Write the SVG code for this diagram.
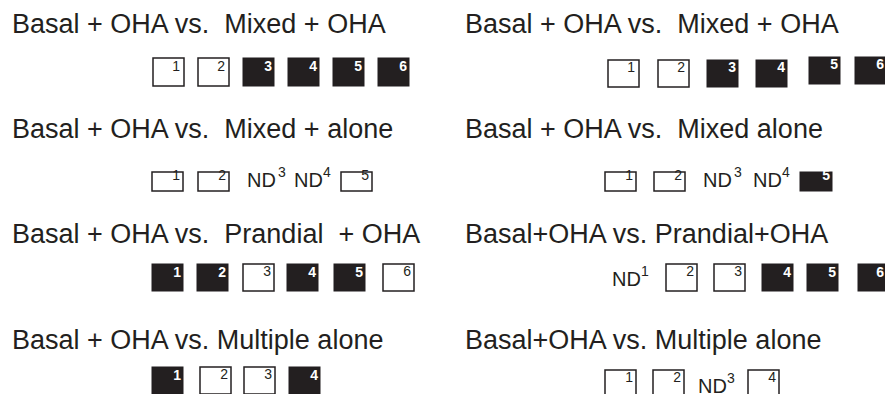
<svg xmlns="http://www.w3.org/2000/svg" width="885" height="394" viewBox="0 0 885 394">
<style>
.t{font-family:"Liberation Sans",Arial,sans-serif;font-size:27px;fill:#231f20}
.nd{font-family:"Liberation Sans",Arial,sans-serif;font-size:20px;fill:#231f20}
.sup{font-family:"Liberation Sans",Arial,sans-serif;font-size:14px;fill:#231f20}
.w rect{fill:#fff;stroke:#231f20;stroke-width:1.5}
.b rect{fill:#231f20;stroke:#231f20;stroke-width:1}
.w text{font-family:"Liberation Sans",Arial,sans-serif;font-size:14px;fill:#231f20;text-anchor:end}
.b text{font-family:"Liberation Sans",Arial,sans-serif;font-size:14px;font-weight:bold;fill:#fff;text-anchor:end}
</style>
<rect width="885" height="394" fill="#fff"/>
<g id="panel-1-left">
<text class="t" x="12" y="33" xml:space="preserve">Basal + OHA vs.  Mixed + OHA</text>
<g class="w"><rect x="153" y="58" width="31" height="28"/><text x="180" y="71">1</text></g>
<g class="w"><rect x="198" y="58" width="31" height="28"/><text x="225" y="71">2</text></g>
<g class="b"><rect x="243" y="58" width="31" height="28"/><text x="272" y="71">3</text></g>
<g class="b"><rect x="288" y="58" width="31" height="28"/><text x="317" y="71">4</text></g>
<g class="b"><rect x="333" y="58" width="31" height="28"/><text x="362" y="71">5</text></g>
<g class="b"><rect x="378" y="58" width="31" height="28"/><text x="407" y="71">6</text></g>
</g>
<g id="panel-1-right">
<text class="t" x="465" y="33" xml:space="preserve">Basal + OHA vs.  Mixed + OHA</text>
<g class="w"><rect x="608" y="60" width="31" height="27"/><text x="635" y="72">1</text></g>
<g class="w"><rect x="658" y="60" width="31" height="27"/><text x="685" y="72">2</text></g>
<g class="b"><rect x="707" y="60" width="31" height="27"/><text x="736" y="72">3</text></g>
<g class="b"><rect x="756" y="60" width="31" height="27"/><text x="785" y="72">4</text></g>
<g class="b"><rect x="809" y="57" width="31" height="27"/><text x="838" y="69">5</text></g>
<g class="b"><rect x="855" y="57" width="31" height="27"/><text x="884" y="69">6</text></g>
</g>
<g id="panel-2-left">
<text class="t" x="12" y="138" xml:space="preserve">Basal + OHA vs.  Mixed + alone</text>
<g class="w"><rect x="152" y="172" width="31" height="19"/><text x="180" y="180">1</text></g>
<g class="w"><rect x="198" y="172" width="31" height="19"/><text x="226" y="180">2</text></g>
<text class="nd" x="247" y="187">ND</text><text class="sup" x="278" y="177">3</text>
<text class="nd" x="294" y="187">ND</text><text class="sup" x="323" y="177">4</text>
<g class="w"><rect x="341" y="172" width="31" height="19"/><text x="369" y="180">5</text></g>
</g>
<g id="panel-2-right">
<text class="t" x="465" y="138" xml:space="preserve">Basal + OHA vs.  Mixed alone</text>
<g class="w"><rect x="605" y="172" width="31" height="19"/><text x="633" y="180">1</text></g>
<g class="w"><rect x="654" y="172" width="31" height="19"/><text x="682" y="180">2</text></g>
<text class="nd" x="703" y="187">ND</text><text class="sup" x="734" y="177">3</text>
<text class="nd" x="753" y="187">ND</text><text class="sup" x="782" y="177">4</text>
<g class="b"><rect x="800" y="172" width="32" height="19"/><text x="830" y="180">5</text></g>
</g>
<g id="panel-3-left">
<text class="t" x="12" y="243" xml:space="preserve">Basal + OHA vs.  Prandial  + OHA</text>
<g class="b"><rect x="152" y="264" width="31" height="27"/><text x="181" y="277">1</text></g>
<g class="b"><rect x="197" y="264" width="31" height="27"/><text x="226" y="277">2</text></g>
<g class="w"><rect x="243" y="264" width="31" height="27"/><text x="271" y="276">3</text></g>
<g class="b"><rect x="287" y="264" width="31" height="27"/><text x="316" y="277">4</text></g>
<g class="b"><rect x="334" y="264" width="31" height="27"/><text x="363" y="277">5</text></g>
<g class="w"><rect x="383" y="264" width="31" height="27"/><text x="411" y="276">6</text></g>
</g>
<g id="panel-3-right">
<text class="t" x="465" y="243">Basal+OHA vs. Prandial+OHA</text>
<text class="nd" x="612" y="286">ND</text><text class="sup" x="641" y="276">1</text>
<g class="w"><rect x="666" y="264" width="31" height="27"/><text x="694" y="276">2</text></g>
<g class="w"><rect x="714" y="264" width="31" height="27"/><text x="742" y="276">3</text></g>
<g class="b"><rect x="762" y="264" width="31" height="27"/><text x="791" y="277">4</text></g>
<g class="b"><rect x="807" y="264" width="31" height="27"/><text x="836" y="277" font-weight="normal">5</text></g>
<g class="b"><rect x="858" y="264" width="31" height="27"/><text x="884" y="277">6</text></g>
</g>
<g id="panel-4-left">
<text class="t" x="12" y="349">Basal + OHA vs. Multiple alone</text>
<g class="b"><rect x="152" y="367" width="31" height="27"/><text x="181" y="380">1</text></g>
<g class="w"><rect x="200" y="367" width="31" height="27"/><text x="228" y="379">2</text></g>
<g class="w"><rect x="244" y="367" width="31" height="27"/><text x="272" y="379">3</text></g>
<g class="b"><rect x="289" y="367" width="31" height="27"/><text x="318" y="380">4</text></g>
</g>
<g id="panel-4-right">
<text class="t" x="465" y="349">Basal+OHA vs. Multiple alone</text>
<g class="w"><rect x="605" y="370" width="31" height="27"/><text x="633" y="382">1</text></g>
<g class="w"><rect x="653" y="370" width="31" height="27"/><text x="681" y="382">2</text></g>
<text class="nd" x="698" y="393">ND</text><text class="sup" x="727" y="383">3</text>
<g class="w"><rect x="748" y="370" width="31" height="27"/><text x="776" y="382">4</text></g>
</g>
</svg>
